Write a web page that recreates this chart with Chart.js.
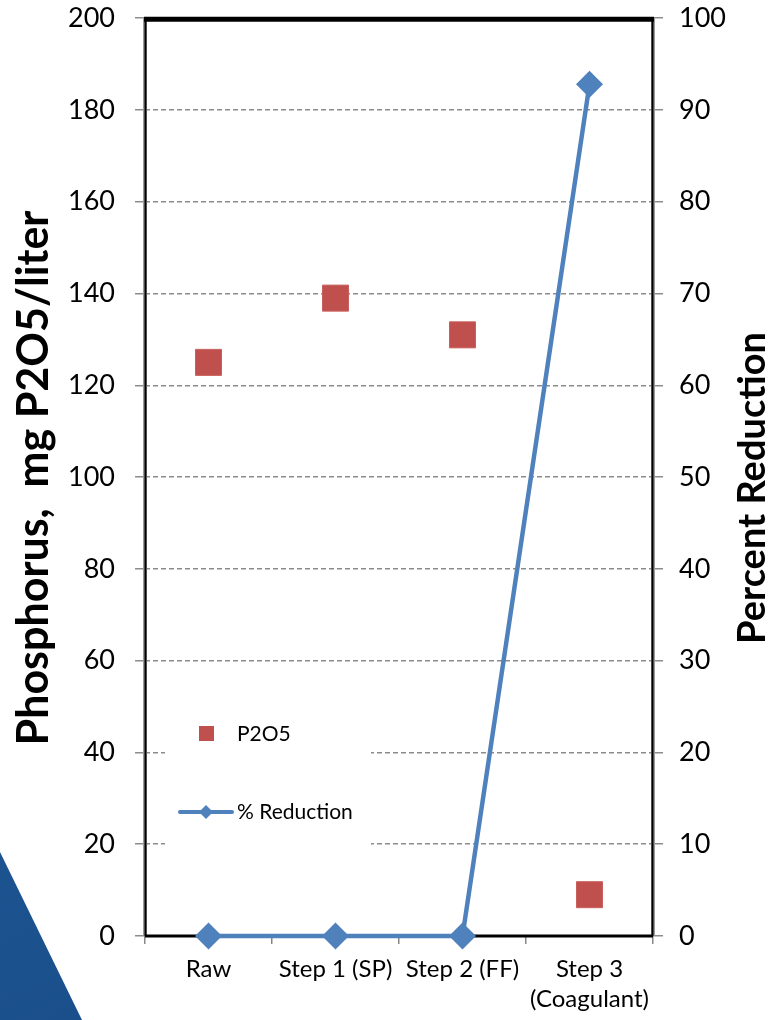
<!DOCTYPE html>
<html>
<head>
<meta charset="utf-8">
<script src="https://cdn.jsdelivr.net/npm/chart.js@4/dist/chart.umd.min.js"></script>
<style>
  html, body { margin: 0; padding: 0; background: #ffffff; }
  #wrap { position: relative; width: 770px; height: 1020px; overflow: hidden; }
  #corner { position: absolute; left: 0; top: 0; width: 770px; height: 1020px;
    background: linear-gradient(160deg, #2f6db0 0%, #1d5592 60%, #174a84 100%);
    clip-path: polygon(0px 852px, 82px 1020px, 0px 1020px); }
  #c { position: absolute; left: 0; top: -18px; }
</style>
</head>
<body>
<div id="wrap">
  <div id="corner"></div>
  <canvas id="c" width="770" height="1038"></canvas>
</div>
<script>
// ---- data ----
const categories = ['Raw', 'Step 1 (SP)', 'Step 2 (FF)', ['Step 3', '(Coagulant)']];
const p2o5 = [125, 139, 131, 9];
const pctReduction = [0, 0, 0, 92.8];
const leftTicks = [0, 20, 40, 60, 80, 100, 120, 140, 160, 180, 200];
const rightTicks = [0, 10, 20, 30, 40, 50, 60, 70, 80, 90, 100];
const seriesNames = ['P2O5', '% Reduction'];
const leftTitle = 'Phosphorus,  mg P2O5/liter';
const rightTitle = 'Percent Reduction';

const RED = '#c0504d';
const BLUE = '#4f81bd';
const FONT = 'Lato, "Open Sans", sans-serif';
const OFF = 18; // canvas is shifted up by this amount

const framePlugin = {
  id: 'frame',
  beforeDatasetsDraw(chart) {
    const { ctx, chartArea: a } = chart;
    ctx.save();
    ctx.strokeStyle = '#9a9a9a';
    ctx.lineWidth = 4;
    ctx.beginPath();
    ctx.moveTo(a.left, a.top); ctx.lineTo(a.left, a.bottom);
    ctx.moveTo(a.right, a.top); ctx.lineTo(a.right, a.bottom);
    ctx.stroke();
    ctx.strokeStyle = '#000';
    ctx.lineWidth = 2;
    ctx.beginPath();
    ctx.moveTo(a.left + 0.5, a.top); ctx.lineTo(a.left + 0.5, a.bottom);
    ctx.moveTo(a.right - 0.5, a.top); ctx.lineTo(a.right - 0.5, a.bottom);
    ctx.stroke();
    ctx.strokeStyle = '#000';
    ctx.lineWidth = 3;
    ctx.beginPath();
    ctx.moveTo(a.left, a.bottom); ctx.lineTo(a.right, a.bottom);
    ctx.stroke();
    ctx.lineWidth = 5;
    ctx.beginPath();
    ctx.moveTo(a.left - 1, a.top + 1); ctx.lineTo(a.right + 1, a.top + 1);
    ctx.stroke();
    ctx.restore();
  },
  afterDraw(chart) {
    const { ctx } = chart;
    ctx.save();
    ctx.fillStyle = '#000';
    ctx.textAlign = 'center';
    ctx.textBaseline = 'middle';
    ctx.font = 'bold 43px ' + FONT;
    ctx.setTransform(1, 0, 0, 1, 34, 478 + OFF);
    ctx.rotate(-Math.PI / 2);
    ctx.fillText(leftTitle, 0, 0);
    ctx.font = 'bold 38px ' + FONT;
    ctx.setTransform(1, 0, 0, 1, 753, 488 + OFF);
    ctx.rotate(-Math.PI / 2);
    ctx.fillText(rightTitle, 0, 0);
    ctx.setTransform(1, 0, 0, 1, 0, OFF);

    // legend inside plot area
    ctx.fillStyle = '#ffffff';
    ctx.fillRect(165, 702, 206, 156);
    ctx.font = '21px ' + FONT;
    ctx.textAlign = 'left';
    ctx.textBaseline = 'middle';
    ctx.fillStyle = RED;
    ctx.fillRect(199, 726, 15, 15);
    ctx.fillStyle = '#000';
    ctx.fillText(seriesNames[0], 237, 734);
    ctx.strokeStyle = BLUE;
    ctx.lineWidth = 4;
    ctx.lineCap = 'round';
    ctx.beginPath();
    ctx.moveTo(180, 812); ctx.lineTo(232, 812);
    ctx.stroke();
    ctx.fillStyle = BLUE;
    ctx.beginPath();
    ctx.moveTo(206, 805); ctx.lineTo(213, 812); ctx.lineTo(206, 819); ctx.lineTo(199, 812);
    ctx.closePath(); ctx.fill();
    ctx.fillStyle = '#000';
    ctx.fillText(seriesNames[1], 237, 812);
    ctx.restore();
  }
};

new Chart(document.getElementById('c'), {
  type: 'line',
  data: {
    labels: categories,
    datasets: [
      {
        label: seriesNames[0],
        data: p2o5,
        yAxisID: 'y',
        showLine: false,
        clip: false,
        pointStyle: 'rect',
        pointRadius: 18.4,
        pointHoverRadius: 18.4,
        pointBackgroundColor: RED,
        pointBorderColor: '#c8605d',
        pointBorderWidth: 1,
        backgroundColor: RED,
        borderColor: RED
      },
      {
        label: seriesNames[1],
        data: pctReduction,
        yAxisID: 'y2',
        clip: false,
        borderColor: BLUE,
        backgroundColor: BLUE,
        borderWidth: 4.5,
        pointStyle: 'rectRot',
        pointRadius: 13.5,
        pointHoverRadius: 13.5,
        pointBackgroundColor: BLUE,
        pointBorderColor: BLUE,
        pointBorderWidth: 0,
        tension: 0
      }
    ]
  },
  options: {
    responsive: false,
    animation: false,
    devicePixelRatio: 1,
    layout: { autoPadding: false, padding: { top: 18, left: 0, right: 0, bottom: 0 } },
    plugins: { legend: { display: false }, tooltip: { enabled: false } },
    scales: {
      x: {
        type: 'category',
        offset: true,
        grid: { offset: true, drawOnChartArea: false, color: '#888', tickLength: 8, lineWidth: 1.5 },
        border: { display: false },
        ticks: { color: '#000', font: { family: FONT, size: 24, lineHeight: 1.25 }, padding: 10, maxRotation: 0, autoSkip: false },
        afterFit(s) { s.height = 84; }
      },
      y: {
        position: 'left',
        min: 0, max: 200,
        afterBuildTicks(s) { s.ticks = leftTicks.map(v => ({ value: v })); },
        grid: {
          color: '#8c8c8c', lineWidth: 1.5, tickLength: 10,
          tickColor: '#8c8c8c', tickBorderDash: [], tickWidth: 1.5
        },
        border: { display: false, dash: [5, 3] },
        ticks: { color: '#000', font: { family: FONT, size: 27 }, padding: 20 },
        afterFit(s) { s.width = 145; }
      },
      y2: {
        position: 'right',
        min: 0, max: 100,
        afterBuildTicks(s) { s.ticks = rightTicks.map(v => ({ value: v })); },
        grid: { drawOnChartArea: false, color: '#8c8c8c', tickLength: 10, lineWidth: 1.5 },
        border: { display: false },
        ticks: { color: '#000', font: { family: FONT, size: 27 }, padding: 16 },
        afterFit(s) { s.width = 117; }
      }
    }
  },
  plugins: [framePlugin]
});
</script>
</body>
</html>
